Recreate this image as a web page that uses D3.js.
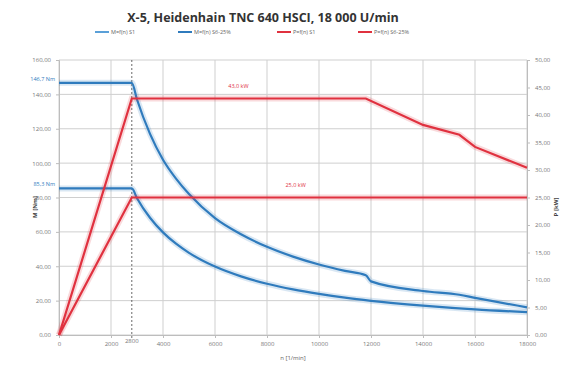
<!DOCTYPE html>
<html>
<head>
<meta charset="utf-8">
<script src="https://cdn.jsdelivr.net/npm/d3@7"></script>
<style>
  body { margin: 0; background: #fff; }
  text { font-family: "Open Sans", "DejaVu Sans", sans-serif; }
</style>
</head>
<body>
<svg id="chart" width="571" height="365"></svg>
<script>
const title = 'X-5, Heidenhain TNC 640 HSCI, 18 000 U/min'
const seriesNames = ['M=f(n) S1', 'M=f(n) S6-25%', 'P=f(n) S1', 'P=f(n) S6-25%']

// speeds [1/min]
const speedsS1M = [0, 2800, 3000, 3500, 4000, 4500, 5000, 6000, 7000, 8000, 9000, 10000, 11000, 12000, 14000, 16000, 18000]
const torqueS1 = [85.3, 85.3, 79.6, 68.2, 59.7, 53.1, 47.8, 39.8, 34.1, 29.8, 26.5, 23.9, 21.7, 19.9, 17.1, 14.9, 13.3]
const speedsS6M = [0, 2800, 3000, 3500, 4000, 4500, 5000, 6000, 7000, 8000, 9000, 10000, 11000, 11800, 12000, 14000, 15400, 16000, 18000]
const torqueS6 = [146.7, 146.7, 137, 117, 102, 91, 82, 68, 58.6, 51.3, 45.6, 41, 37.3, 34.8, 31.2, 25.6, 23.4, 21.6, 16.1]
const speedsS1P = [0, 2800, 18000]
const powerS1 = [0, 25, 25]
const speedsS6P = [0, 2800, 11800, 14000, 15400, 16000, 18000]
const powerS6 = [0, 43, 43, 38.2, 36.4, 34.2, 30.4]

const xTicks = [0, 2000, 4000, 6000, 8000, 10000, 12000, 14000, 16000, 18000]
const cornerSpeed = 2800
const torqueLabels = ['146,7 Nm', '85,3 Nm']
const torqueLabelValues = [146.7, 85.3]
const powerLabels = ['43,0 kW', '25,0 kW']
const powerLabelValues = [43, 25]
const powerLabelSpeeds = [6900, 9100]

const margin = { top: 60, right: 44, bottom: 30, left: 59 }
const width = 571 - margin.left - margin.right
const height = 365 - margin.top - margin.bottom

const locale = d3.formatLocale({ decimal: ',', thousands: '', grouping: [3], currency: ['', ''] })
const fmt2 = locale.format('.2f')

const svg = d3.select('#chart')
const g = svg.append('g').attr('transform', `translate(${margin.left},${margin.top})`)

const x = d3.scaleLinear().domain([0, 18000]).range([0, width])
const yM = d3.scaleLinear().domain([0, 160]).range([height, 0])
const yP = d3.scaleLinear().domain([0, 50]).range([height, 0])

// grid
g.append('g').selectAll('line').data(yM.ticks(8)).enter().append('line')
  .attr('x1', 0).attr('x2', width)
  .attr('y1', (d) => yM(d)).attr('y2', (d) => yM(d))
  .attr('stroke', '#cfcfcf').attr('stroke-width', 1)
g.append('g').selectAll('line').data(xTicks).enter().append('line')
  .attr('x1', (d) => x(d)).attr('x2', (d) => x(d))
  .attr('y1', 0).attr('y2', height)
  .attr('stroke', '#cfcfcf').attr('stroke-width', 1)

// axes
const axisStyle = (sel) => {
  sel.select('.domain').attr('stroke', '#bdbdbd')
  sel.selectAll('.tick line').attr('stroke', '#bdbdbd')
  sel.selectAll('text').attr('fill', '#777').attr('font-size', 6)
}
g.append('g').call(d3.axisLeft(yM).ticks(8).tickSize(3).tickPadding(5).tickFormat(fmt2)).call(axisStyle)
g.append('g').attr('transform', `translate(${width},0)`)
  .call(d3.axisRight(yP).ticks(10).tickSize(3).tickPadding(5).tickFormat(fmt2)).call(axisStyle)
g.append('g').attr('transform', `translate(0,${height})`)
  .call(d3.axisBottom(x).tickValues(xTicks).tickSize(3).tickFormat(d3.format('d'))).call(axisStyle)
  .call((sel) => sel.selectAll('text').attr('dy', '0.9em'))

// corner speed marker
g.append('line')
  .attr('x1', x(cornerSpeed)).attr('x2', x(cornerSpeed))
  .attr('y1', 0).attr('y2', height + 3)
  .attr('stroke', '#444').attr('stroke-dasharray', '2,2').attr('stroke-width', 0.8)
g.append('text').attr('x', x(cornerSpeed)).attr('y', height + 8)
  .attr('text-anchor', 'middle').attr('font-size', 6).attr('fill', '#777')
  .text(cornerSpeed)

// curves
const blue = '#2f7bbd'
const red = '#e0313f'
const curves = [
  { xs: speedsS1M, ys: torqueS1, y: yM, color: blue, curve: d3.curveMonotoneX },
  { xs: speedsS6M, ys: torqueS6, y: yM, color: blue, curve: d3.curveMonotoneX },
  { xs: speedsS1P, ys: powerS1, y: yP, color: red, curve: d3.curveLinear },
  { xs: speedsS6P, ys: powerS6, y: yP, color: red, curve: d3.curveLinear },
]
curves.forEach((c) => {
  const pts = c.xs.map((n, i) => [n, c.ys[i]])
  const line = d3.line().x((d) => x(d[0])).y((d) => c.y(d[1])).curve(c.curve)
  g.append('path').datum(pts).attr('d', line)
    .attr('fill', 'none').attr('stroke', c.color).attr('stroke-opacity', 0.18).attr('stroke-width', 6)
  g.append('path').datum(pts).attr('d', line)
    .attr('fill', 'none').attr('stroke', c.color).attr('stroke-width', 2.2)
})

// value labels
torqueLabels.forEach((t, i) => {
  g.append('text').attr('x', -4).attr('y', yM(torqueLabelValues[i]) - 2)
    .attr('text-anchor', 'end').attr('font-size', 5.5).attr('fill', blue).text(t)
})
powerLabels.forEach((t, i) => {
  g.append('text').attr('x', x(powerLabelSpeeds[i])).attr('y', yP(powerLabelValues[i]) - 11)
    .attr('text-anchor', 'middle').attr('font-size', 5.5).attr('fill', red).text(t)
})

// axis titles
svg.append('text').attr('transform', 'translate(37,207) rotate(-90)')
  .attr('text-anchor', 'middle').attr('font-size', 6).attr('font-weight', 'bold').attr('fill', '#444').text('M [Nm]')
svg.append('text').attr('transform', 'translate(558,207) rotate(-90)')
  .attr('text-anchor', 'middle').attr('font-size', 6).attr('font-weight', 'bold').attr('fill', '#444').text('P [kW]')
svg.append('text').attr('x', margin.left + width / 2).attr('y', 360)
  .attr('text-anchor', 'middle').attr('font-size', 6).attr('fill', '#666').text('n [1/min]')

// title
svg.append('text').attr('x', 263).attr('y', 22).attr('text-anchor', 'middle')
  .attr('font-size', 12.5).attr('font-weight', 'bold').attr('fill', '#333').text(title)

// legend
const legendX = [95, 178, 277, 358]
const legendColors = ['#5aa0d8', blue, red, red]
const legend = svg.append('g').selectAll('g').data(seriesNames).enter().append('g')
  .attr('transform', (d, i) => `translate(${legendX[i]},32)`)
legend.append('line').attr('x1', 0).attr('x2', 14).attr('y1', 0).attr('y2', 0)
  .attr('stroke', (d, i) => legendColors[i]).attr('stroke-width', 2)
legend.append('text').attr('x', 16).attr('y', 2).attr('font-size', 5.5).attr('fill', '#666').text((d) => d)
</script>
</body>
</html>
